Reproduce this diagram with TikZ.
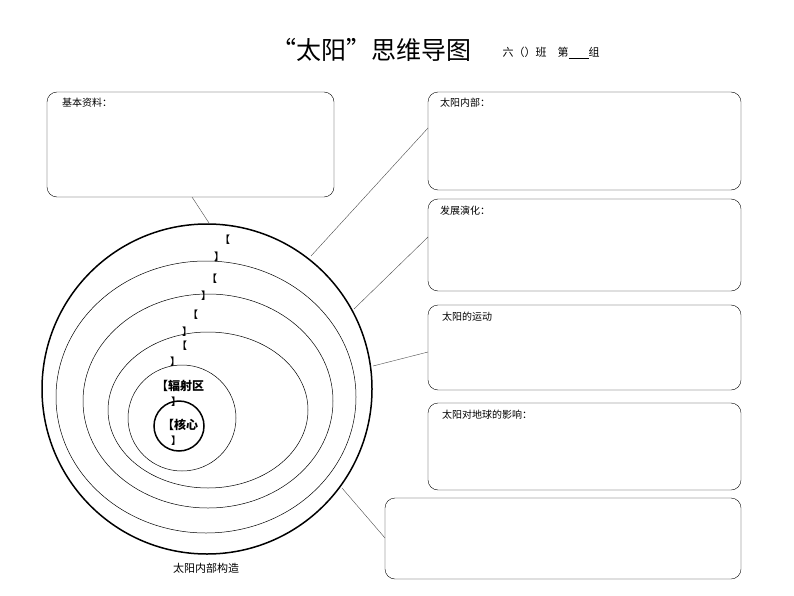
\documentclass[tikz,border=0pt]{standalone}
\usepackage{fontspec}
\setmainfont{Noto Sans CJK SC}
\tikzset{card/.style={rectangle, rounded corners=10pt, draw, thin}}
\tikzset{tag/.style={anchor=north west, font=\fontsize{10}{11}\selectfont, inner sep=2pt}}
\tikzset{br/.style={font=\fontsize{10}{11}\selectfont\bfseries, inner sep=0pt}}
\tikzset{ring/.style={draw, line width=0.5pt}}
\tikzset{link/.style={draw, line width=0.4pt, black!70}}
\begin{document}
\begin{tikzpicture}[x=1pt,y=-1pt]
  \useasboundingbox (0,0) rectangle (794,596);

  % title
  \node (title) at (371,50) {\fontsize{25}{28}\selectfont “太阳”思维导图};
  \node (grp) at (551,53) {\fontsize{11}{12}\selectfont 六（）班\quad 第\underline{\hspace{20pt}}组};

  % boxes
  \draw[card] (47,92) rectangle (334,197);
  \node[tag] (basic) at (60,96) {基本资料：};
  \draw[card] (428,92) rectangle (741,190);
  \node[tag] (inner) at (438,96) {太阳内部：};
  \draw[card] (428,199) rectangle (741,291);
  \node[tag] (evol) at (438,204) {发展演化：};
  \draw[card] (428,305) rectangle (741,390);
  \node[tag] (move) at (440,310) {太阳的运动};
  \draw[card] (428,403) rectangle (741,490);
  \node[tag] (earth) at (440,408) {太阳对地球的影响：};
  \draw[card] (385,498) rectangle (741,579);

  % sun
  \draw[line width=1.5pt] (207,389) circle (165);
  \draw[ring] (206,397) ellipse (150 and 136);
  \draw[ring] (208,401) ellipse (125 and 107);
  \draw[ring] (208,410) ellipse (100 and 78);
  \draw[ring] (182,418) ellipse (54 and 53);
  \draw[line width=1.5pt] (179,426) circle (25);

  \node[br] (b1) at (225,240) {【};
  \node[br] (c1) at (219,257) {】};
  \node[br] (b2) at (212,279) {【};
  \node[br] (c2) at (206,296) {】};
  \node[br] (b3) at (193,315) {【};
  \node[br] (c3) at (187,332) {】};
  \node[br] (b4) at (182,346) {【};
  \node[br] (c4) at (175,362) {】};
  \node[br, font=\fontsize{12}{13}\selectfont\bfseries] (rad) at (180,386) {【辐射区};
  \node[br] (c5) at (176,402) {】};
  \node[br, font=\fontsize{12}{13}\selectfont\bfseries] (core) at (180,425) {【核心};
  \node[br] (c6) at (176,441) {】};
  \node (cap) at (206,568) {\fontsize{11}{12}\selectfont 太阳内部构造};

  % links
  \coordinate (s0) at (209,223);
  \coordinate (s1) at (311,256);
  \coordinate (s2) at (354,309);
  \coordinate (s3) at (373,366);
  \coordinate (s4) at (342,488);
  \draw[link] (192,197) -- (s0);
  \draw[link] (428,128) -- (s1);
  \draw[link] (428,237) -- (s2);
  \draw[link] (428,352) -- (s3);
  \draw[link] (385,538) -- (s4);
\end{tikzpicture}
\end{document}
